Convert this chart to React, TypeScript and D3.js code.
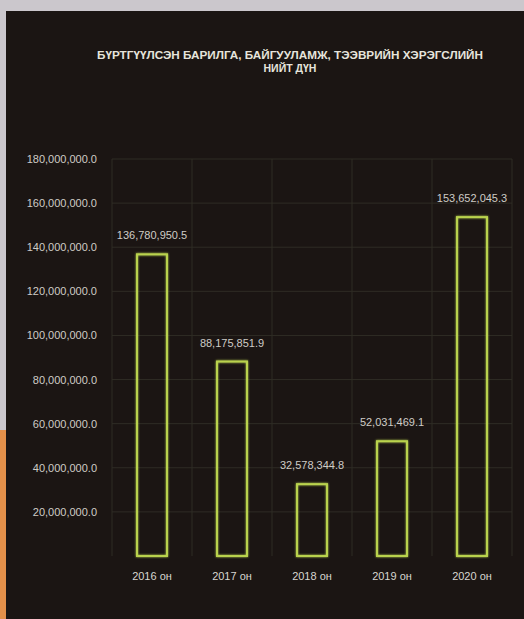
import * as d3 from 'd3';

const years = ['2016 он', '2017 он', '2018 он', '2019 он', '2020 он'];
const totals = [136780950.5, 88175851.9, 32578344.8, 52031469.1, 153652045.3];
const yTicks = [20000000, 40000000, 60000000, 80000000, 100000000, 120000000, 140000000, 160000000, 180000000];
const titleLines = ['БҮРТГҮҮЛСЭН БАРИЛГА, БАЙГУУЛАМЖ, ТЭЭВРИЙН ХЭРЭГСЛИЙН', 'НИЙТ ДҮН'];

const W = 524;
const H = 619;
const plot = { left: 112, right: 512, top: 159, bottom: 556 };

const x = d3.scaleBand().domain(years).range([plot.left, plot.right]).paddingInner(0).paddingOuter(0);
const y = d3.scaleLinear().domain([0, 180000000]).range([plot.bottom, plot.top]);

const fmt = d3.format(',.1f');
const barW = 30;

export default function App() {
  const gridX = years.map((d) => x(d)!).concat([plot.right]);
  return (
    <svg width={W} height={H} style={{ position: 'absolute', left: 0, top: 0 }}>
      <defs>
        <filter id="glow" x="-20%" y="-20%" width="140%" height="140%">
          <feGaussianBlur stdDeviation="1.2" result="b" />
          <feMerge>
            <feMergeNode in="b" />
            <feMergeNode in="SourceGraphic" />
          </feMerge>
        </filter>
      </defs>
      {/* photo frame */}
      <rect x={0} y={0} width={W} height={H} fill="#cbc7cc" />
      <rect x={0} y={430} width={6} height={H - 430} fill="#e4904a" />
      <rect x={6} y={11} width={W - 6} height={H - 11} fill="#1b1513" />

      {/* title */}
      <g fill="#e6e4dc" fontFamily="Liberation Sans, Arial, sans-serif" fontWeight="bold" fontSize={10.5} textAnchor="middle">
        {titleLines.map((t, i) => (
          <text key={i} x={290} y={59 + i * 13} textLength={i === 0 ? 386 : undefined} lengthAdjust="spacingAndGlyphs">
            {t}
          </text>
        ))}
      </g>

      {/* grid */}
      <g stroke="#2f2c25" strokeWidth={1}>
        {yTicks.map((t) => (
          <line key={t} x1={plot.left} x2={plot.right} y1={y(t)} y2={y(t)} />
        ))}
        {gridX.map((gx, i) => (
          <line key={i} x1={gx} x2={gx} y1={plot.top} y2={plot.bottom} />
        ))}
      </g>

      {/* y axis labels */}
      <g fill="#cfccc6" fontFamily="Liberation Sans, Arial, sans-serif" fontSize={11} textAnchor="end">
        {yTicks.map((t) => (
          <text key={t} x={97} y={y(t) + 4}>
            {fmt(t)}
          </text>
        ))}
      </g>

      {/* bars */}
      <g fill="none" stroke="#b9d24e" strokeWidth={2} filter="url(#glow)">
        {totals.map((v, i) => {
          const cx = x(years[i])! + x.bandwidth() / 2;
          return <rect key={i} x={cx - barW / 2} y={y(v)} width={barW} height={plot.bottom - y(v)} />;
        })}
      </g>

      {/* value labels */}
      <g fill="#cfccc6" fontFamily="Liberation Sans, Arial, sans-serif" fontSize={11} textAnchor="middle">
        {totals.map((v, i) => {
          const cx = x(years[i])! + x.bandwidth() / 2;
          return (
            <text key={i} x={cx} y={y(v) - 15}>
              {fmt(v)}
            </text>
          );
        })}
      </g>

      {/* x axis labels */}
      <g fill="#d8d6d0" fontFamily="Liberation Sans, Arial, sans-serif" fontSize={11} textAnchor="middle">
        {years.map((d) => (
          <text key={d} x={x(d)! + x.bandwidth() / 2} y={580}>
            {d}
          </text>
        ))}
      </g>
    </svg>
  );
}
